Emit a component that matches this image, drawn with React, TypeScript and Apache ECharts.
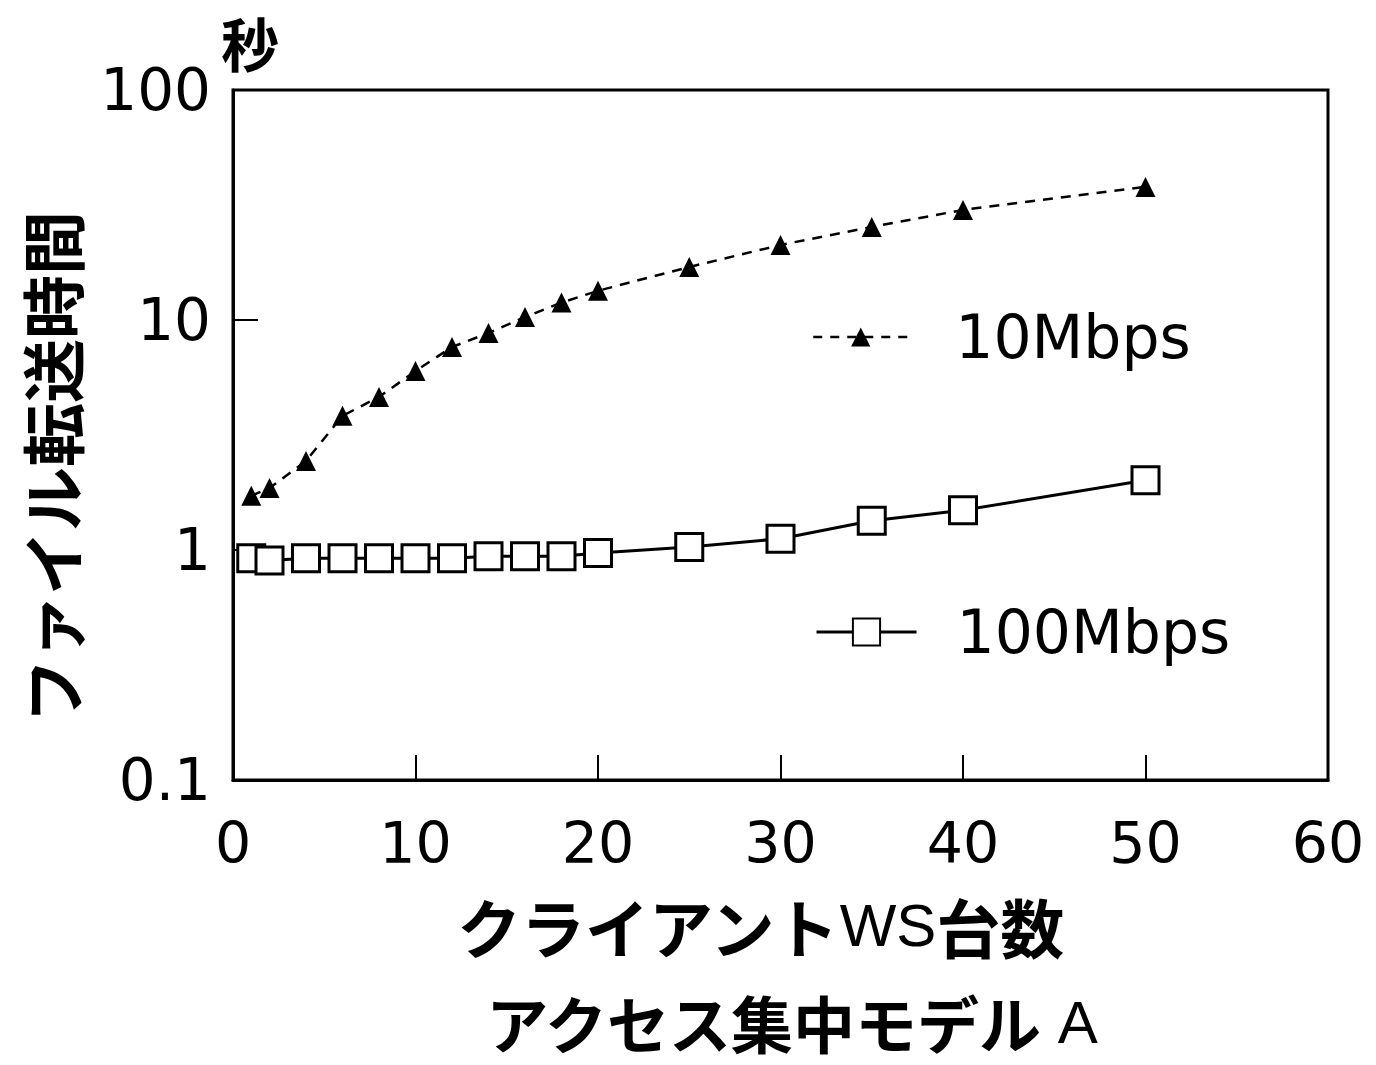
import React, { useEffect, useRef } from "react";
import * as echarts from "echarts";

const clients = [1, 2, 4, 6, 8, 10, 12, 14, 16, 18, 20, 25, 30, 35, 40, 50];
const mbps10 = [1.72, 1.86, 2.44, 3.83, 4.63, 6.0, 7.63, 8.78, 10.3, 11.9, 13.4, 17.0, 21.2, 25.4, 30.1, 37.9];
const mbps100 = [0.92, 0.9, 0.92, 0.92, 0.92, 0.92, 0.92, 0.94, 0.94, 0.94, 0.97, 1.03, 1.12, 1.34, 1.49, 2.01];
const seriesNames = ["10Mbps", "100Mbps"];
const xTitle = "クライアント";
const xTitleLatin = "WS";
const xTitleEnd = "台数";
const subTitle = "アクセス集中モデル";
const subTitleLatin = "A";
const yTitle = "ファイル転送時間";
const yUnit = "秒";

const NUM_FONT = "'DejaVu Sans', 'Liberation Sans', sans-serif";
const JP_FONT = "'Noto Sans CJK JP', 'Noto Sans', sans-serif";
const LATIN_FONT = "'Liberation Sans', sans-serif";

export default function App() {
  const ref = useRef<HTMLDivElement>(null);
  useEffect(() => {
    if (!ref.current) return;
    const chart = echarts.init(ref.current, undefined, { renderer: "svg" });
    const pair = (ys: number[]) => clients.map((x, i) => [x, ys[i]]);
    chart.setOption({
      animation: false,
      backgroundColor: "#fff",
      grid: {
        left: 233,
        right: 48,
        top: 90,
        bottom: 285,
        show: true,
        borderColor: "#000",
        borderWidth: 3,
        backgroundColor: "transparent",
      },
      xAxis: {
        type: "value",
        min: 0,
        max: 60,
        interval: 10,
        axisLine: { lineStyle: { color: "#000", width: 3 } },
        axisTick: { inside: true, length: 25, lineStyle: { color: "#000", width: 2 } },
        splitLine: { show: false },
        axisLabel: { color: "#000", fontSize: 57, fontFamily: NUM_FONT, margin: 34 },
      },
      yAxis: {
        type: "log",
        logBase: 10,
        min: 0.1,
        max: 100,
        axisLine: { lineStyle: { color: "#000", width: 3 } },
        axisTick: { inside: true, length: 25, lineStyle: { color: "#000", width: 2 } },
        minorTick: { show: false },
        splitLine: { show: false },
        axisLabel: {
          color: "#000",
          fontSize: 58,
          fontFamily: NUM_FONT,
          margin: 22,
          formatter: (v: number) => String(v),
        },
      },
      legend: [
        {
          data: [seriesNames[0]],
          left: 812,
          top: 307,
          padding: 0,
          itemWidth: 95,
          itemHeight: 24,
          lineStyle: { width: 2.5, type: [9, 8], color: "#000" },
          textStyle: { fontSize: 60, lineHeight: 60, fontFamily: NUM_FONT, color: "#000", padding: [0, 0, 0, 42] },
        },
        {
          data: [seriesNames[1]],
          left: 815,
          top: 602,
          padding: 0,
          itemWidth: 100,
          itemHeight: 34,
          lineStyle: { width: 3, color: "#000" },
          textStyle: { fontSize: 60, lineHeight: 60, fontFamily: NUM_FONT, color: "#000", padding: [0, 0, 0, 35] },
        },
      ],
      series: [
        {
          name: seriesNames[0],
          type: "line",
          data: pair(mbps10),
          symbol: "triangle",
          symbolSize: 20,
          itemStyle: { color: "#000" },
          lineStyle: { color: "#000", width: 2.5, type: [10, 8] },
          z: 3,
        },
        {
          name: seriesNames[1],
          type: "line",
          data: pair(mbps100),
          symbol: "rect",
          symbolSize: 27,
          showAllSymbol: true,
          itemStyle: { color: "#fff", borderColor: "#000", borderWidth: 3 },
          lineStyle: { color: "#000", width: 3 },
          z: 2,
        },
      ],
      graphic: [
        {
          type: "text",
          x: 250,
          y: 42,
          style: {
            text: yUnit,
            fontSize: 58,
            lineHeight: 58,
            fontWeight: "bold",
            fontFamily: JP_FONT,
            fill: "#000",
            align: "center",
            verticalAlign: "middle",
          },
        },
        {
          type: "text",
          x: 50,
          y: 467,
          rotation: Math.PI / 2,
          style: {
            text: yTitle,
            fontSize: 64,
            fontWeight: "bold",
            fontFamily: JP_FONT,
            fill: "#000",
            align: "center",
            verticalAlign: "middle",
          },
        },
        {
          type: "text",
          x: 760,
          y: 925,
          style: {
            text: `{b|${xTitle}}{r|${xTitleLatin}}{b|${xTitleEnd}}`,
            align: "center",
            verticalAlign: "middle",
            rich: {
              b: { fontSize: 64, lineHeight: 66, fontWeight: "bold", fontFamily: JP_FONT, fill: "#000", color: "#000" },
              r: { fontSize: 60, lineHeight: 66, fontWeight: "normal", fontFamily: LATIN_FONT, fill: "#000", color: "#000" },
            },
          },
        },
        {
          type: "text",
          x: 792,
          y: 1022,
          style: {
            text: `{b|${subTitle}}{r| ${subTitleLatin}}`,
            align: "center",
            verticalAlign: "middle",
            rich: {
              b: { fontSize: 62, lineHeight: 60, fontWeight: "bold", fontFamily: JP_FONT, fill: "#000", color: "#000" },
              r: { fontSize: 60, lineHeight: 60, fontWeight: "normal", fontFamily: LATIN_FONT, fill: "#000", color: "#000" },
            },
          },
        },
      ],
    });
    return () => chart.dispose();
  }, []);
  return (
    <div
      ref={ref}
      style={{ position: "absolute", left: 0, top: 0, width: 1376, height: 1065, background: "#fff" }}
    />
  );
}
